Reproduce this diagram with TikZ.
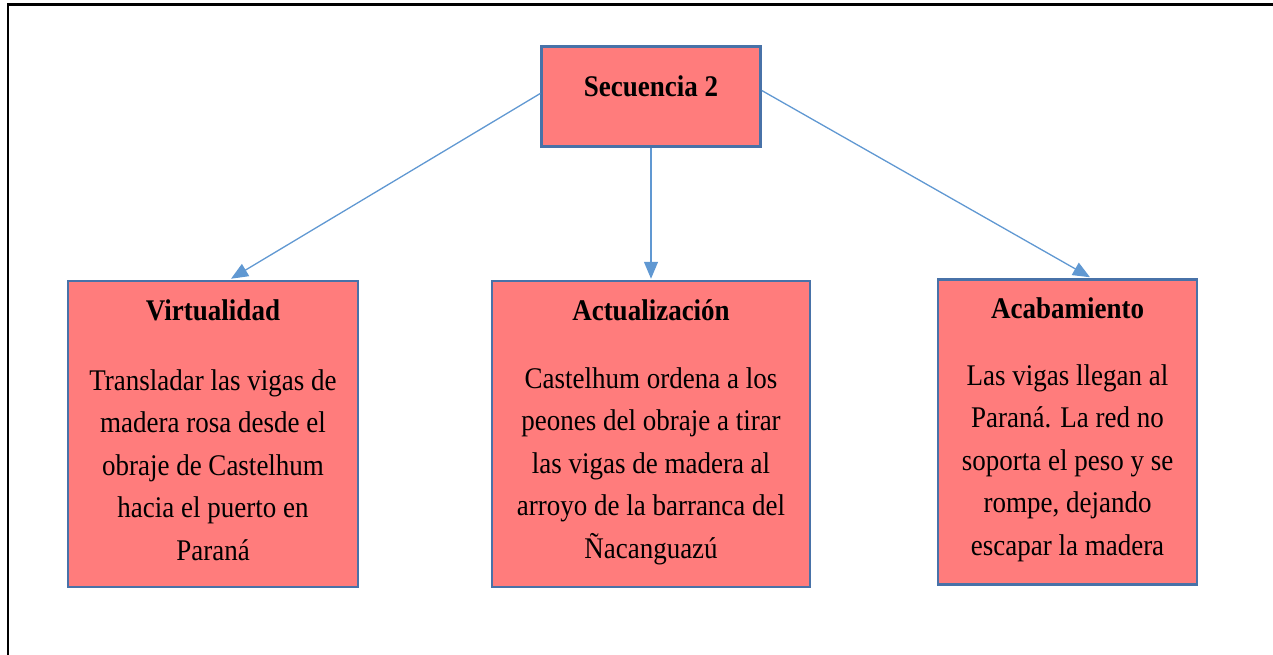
\documentclass[tikz,border=0pt]{standalone}
\usepackage{fontspec}
\setmainfont{Liberation Serif}[FakeStretch=0.9]
\usetikzlibrary{arrows.meta,calc}
\definecolor{boxfill}{RGB}{255,124,124}
\definecolor{boxline}{RGB}{72,114,168}
\definecolor{arrowc}{RGB}{96,152,210}
\begin{document}
\begin{tikzpicture}[x=1pt,y=-1pt,
  boxshape/.style={draw=boxline, line width=2.5pt, fill=boxfill, inner sep=0pt},
  txt/.style={inner sep=0pt, align=center, font=\fontsize{30}{42.5}\selectfont},
  conn/.style={draw=arrowc, line width=1.3pt, -{Triangle[length=17pt,width=14pt]}}]
\useasboundingbox (0,0) rectangle (1273,655);
\draw[line width=2.5pt] (8,655) -- (8,4.5) -- (1273,4.5);

% boxes
\node[boxshape, minimum width=219pt, minimum height=100pt] (top) at (651,96.5) {};
\node[boxshape, minimum width=290pt, minimum height=306pt] (vbox) at (213,434) {};
\node[boxshape, minimum width=318pt, minimum height=306pt] (abox) at (651,434) {};
\node[boxshape, minimum width=259pt, minimum height=305pt] (cbox) at (1067.5,432) {};

% texts
\node[txt, anchor=base] (toptxt) at (651,97) {\textbf{Secuencia 2}};
\node[txt, anchor=north] (vtxt) at (213,299.5) {\textbf{Virtualidad}\\[27pt]
Transladar las vigas de\\ madera rosa desde el\\ obraje de Castelhum\\ hacia el puerto en\\ Paraná};
\node[txt, anchor=north] (atxt) at (651,299.5) {\textbf{Actualización}\\[25pt]
Castelhum ordena a los\\ peones del obraje a tirar\\ las vigas de madera al\\ arroyo de la barranca del\\ Ñacanguazú};
\node[txt, anchor=north] (ctxt) at (1067.5,297.5) {\textbf{Acabamiento}\\[24pt]
Las vigas llegan al\\ Paraná. La red no\\ soporta el peso y se\\ rompe, dejando\\ escapar la madera};

% connectors
\draw[conn] ($(top.west)+(0,-3)$) -- ($(vbox.north)+(18,-1)$);
\draw[conn] (top.south) -- ($(abox.north)+(0,-1)$);
\draw[conn] ($(top.east)+(0,-6)$) -- ($(cbox.north)+(22.5,-1)$);
\end{tikzpicture}
\end{document}
